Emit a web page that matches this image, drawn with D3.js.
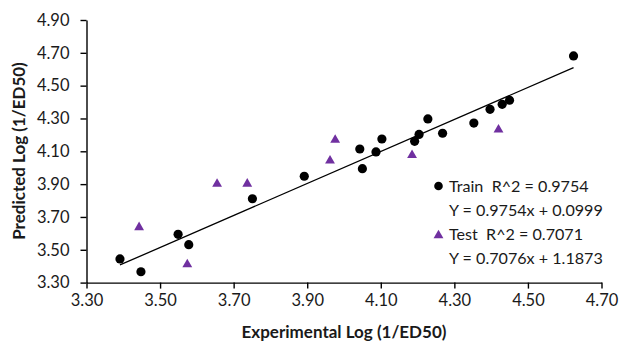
<!DOCTYPE html>
<html>
<head>
<meta charset="utf-8">
<script src="https://cdn.jsdelivr.net/npm/d3@7"></script>
<style>
body { margin: 0; background: #fff; }
text { font-family: Lato, "Open Sans", sans-serif; white-space: pre; }
</style>
</head>
<body>
<script>
// train set: experimental vs predicted
var trainX = [3.391, 3.448, 3.549, 3.578, 3.751, 3.892, 4.043, 4.050, 4.087, 4.103, 4.192, 4.204, 4.228, 4.268, 4.353, 4.397, 4.430, 4.450, 4.624]
var trainY = [3.444, 3.366, 3.594, 3.531, 3.811, 3.948, 4.114, 3.994, 4.096, 4.175, 4.161, 4.203, 4.297, 4.210, 4.272, 4.356, 4.386, 4.411, 4.681]

// test set
var testX = [3.443, 3.574, 3.655, 3.737, 3.962, 3.976, 4.185, 4.420]
var testY = [3.637, 3.411, 3.901, 3.902, 4.043, 4.169, 4.076, 4.232]

// train trendline y = a*x + b
var trainFit = [0.9754, 0.0999]

var xTicks = [3.30, 3.50, 3.70, 3.90, 4.10, 4.30, 4.50, 4.70]
var yTicks = [3.30, 3.50, 3.70, 3.90, 4.10, 4.30, 4.50, 4.70, 4.90]

var legendLines = [
  ['Train  R^2 = 0.9754', 'Y = 0.9754x + 0.0999'],
  ['Test  R^2 = 0.7071', 'Y = 0.7076x + 1.1873']
]

var svg = d3.select('body').append('svg')
  .attr('width', 620)
  .attr('height', 345)

var x = d3.scaleLinear().domain([3.30, 4.70]).range([86.5, 601.5])
var y = d3.scaleLinear().domain([3.30, 4.90]).range([282.6, 20])

var xAxis = svg.append('g')
  .attr('transform', 'translate(0,282.6)')
  .call(d3.axisBottom(x).tickValues(xTicks).tickFormat(d3.format('.2f')).tickSize(6).tickSizeOuter(0).tickPadding(6))

var yAxis = svg.append('g')
  .attr('transform', 'translate(86.5,0)')
  .call(d3.axisLeft(y).tickValues(yTicks).tickFormat(d3.format('.2f')).tickSize(6).tickSizeOuter(0).tickPadding(11))

svg.selectAll('.domain, .tick line').attr('stroke', '#000').attr('stroke-width', 1.4)
svg.selectAll('.tick text').attr('font-size', 16.5).attr('fill', '#1a1a1a').attr('font-family', 'Lato')

// trendline over the train range
var x0 = d3.min(trainX), x1 = d3.max(trainX)
svg.append('line')
  .attr('x1', x(x0)).attr('y1', y(trainFit[0] * x0 + trainFit[1]))
  .attr('x2', x(x1)).attr('y2', y(trainFit[0] * x1 + trainFit[1]))
  .attr('stroke', '#000')
  .attr('stroke-width', 1.3)

var tri = d3.symbol().type(d3.symbolTriangle).size(42)

svg.selectAll('.test').data(testX).enter().append('path')
  .attr('class', 'test')
  .attr('d', tri)
  .attr('transform', function(d, i){ return 'translate(' + x(d) + ',' + y(testY[i]) + ')' })
  .attr('fill', '#7030A0')

svg.selectAll('.train').data(trainX).enter().append('circle')
  .attr('class', 'train')
  .attr('cx', function(d){ return x(d) })
  .attr('cy', function(d, i){ return y(trainY[i]) })
  .attr('r', 4.6)
  .attr('fill', '#000')

// legend
var leg = svg.append('g').attr('font-size', 16).attr('fill', '#1a1a1a')
leg.append('circle').attr('cx', 438.5).attr('cy', 186).attr('r', 4.3).attr('fill', '#000')
leg.append('path').attr('d', tri).attr('transform', 'translate(438.5,235.5)').attr('fill', '#7030A0')
legendLines.forEach(function(pair, i){
  leg.append('text').attr('x', 449).attr('y', 192 + i * 48).text(pair[0])
  leg.append('text').attr('x', 449).attr('y', 215.5 + i * 48).text(pair[1])
})
// size legend so the equation line is ~154px wide like the original
var w = leg.selectAll('text').nodes()[1].getComputedTextLength()
leg.attr('font-size', Math.min(18, 16 * 154 / w))

// axis titles
svg.append('text')
  .attr('x', 344).attr('y', 338)
  .attr('text-anchor', 'middle')
  .attr('font-size', 17)
  .attr('font-weight', 'bold')
  .attr('fill', '#1a1a1a')
  .text('Experimental Log (1/ED50)')

svg.append('text')
  .attr('transform', 'translate(25,151) rotate(-90)')
  .attr('text-anchor', 'middle')
  .attr('font-size', 17)
  .attr('font-weight', 'bold')
  .attr('fill', '#1a1a1a')
  .text('Predicted Log (1/ED50)')
</script>
</body>
</html>
